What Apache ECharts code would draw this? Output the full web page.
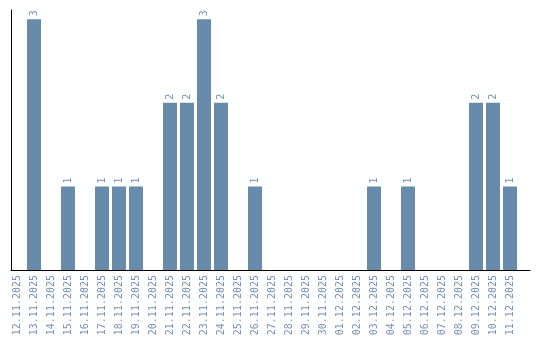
<!DOCTYPE html>
<html><head><meta charset="utf-8">
<script src="https://cdn.jsdelivr.net/npm/echarts@6/dist/echarts.min.js"></script>
<style>html,body{margin:0;padding:0;background:#fff}#c{width:540px;height:340px}</style>
</head><body><div id="c"></div>
<script>
var categories = ['12.11.2025','13.11.2025','14.11.2025','15.11.2025','16.11.2025','17.11.2025','18.11.2025','19.11.2025','20.11.2025','21.11.2025','22.11.2025','23.11.2025','24.11.2025','25.11.2025','26.11.2025','27.11.2025','28.11.2025','29.11.2025','30.11.2025','01.12.2025','02.12.2025','03.12.2025','04.12.2025','05.12.2025','06.12.2025','07.12.2025','08.12.2025','09.12.2025','10.12.2025','11.12.2025'];
var values = [0,3,0,1,0,1,1,1,0,2,2,3,2,0,1,0,0,0,0,0,0,1,0,1,0,0,0,2,2,1];

var chart = echarts.init(document.getElementById('c'), null, {renderer:'canvas'});
chart.setOption({
  animation:false,
  backgroundColor:'#ffffff',
  grid:[
    {left:8.5, width:510, top:10, bottom:70},
    {left:11, right:10, top:10, bottom:70}
  ],
  xAxis:[
    {type:'category', gridIndex:0, data:categories,
     axisLine:{show:false}, axisTick:{show:false},
     axisLabel:{rotate:90, interval:0, color:'#7592b5', fontFamily:'DejaVu Sans Mono', fontSize:10, margin:5}},
    {type:'value', gridIndex:1, min:0, max:1,
     axisLine:{show:true, lineStyle:{color:'#000', width:1}}, axisTick:{show:false},
     axisLabel:{show:false}, splitLine:{show:false}}
  ],
  yAxis:[
    {type:'value', gridIndex:0, min:0, max:3.11, show:false, splitLine:{show:false}},
    {type:'value', gridIndex:1, min:0, max:1,
     axisLine:{show:true, lineStyle:{color:'#000', width:1}}, axisTick:{show:false},
     axisLabel:{show:false}, splitLine:{show:false}}
  ],
  series:[{
    type:'bar', xAxisIndex:0, yAxisIndex:0, data:values, barWidth:14,
    itemStyle:{color:'#688bab'},
    label:{show:true, position:'top', rotate:90, align:'left', verticalAlign:'middle', distance:3,
      color:'#7592b5', fontFamily:'DejaVu Sans Mono', fontSize:10,
      formatter:function(p){return p.value>0?String(p.value):'';}}
  }]
});
</script></body></html>
